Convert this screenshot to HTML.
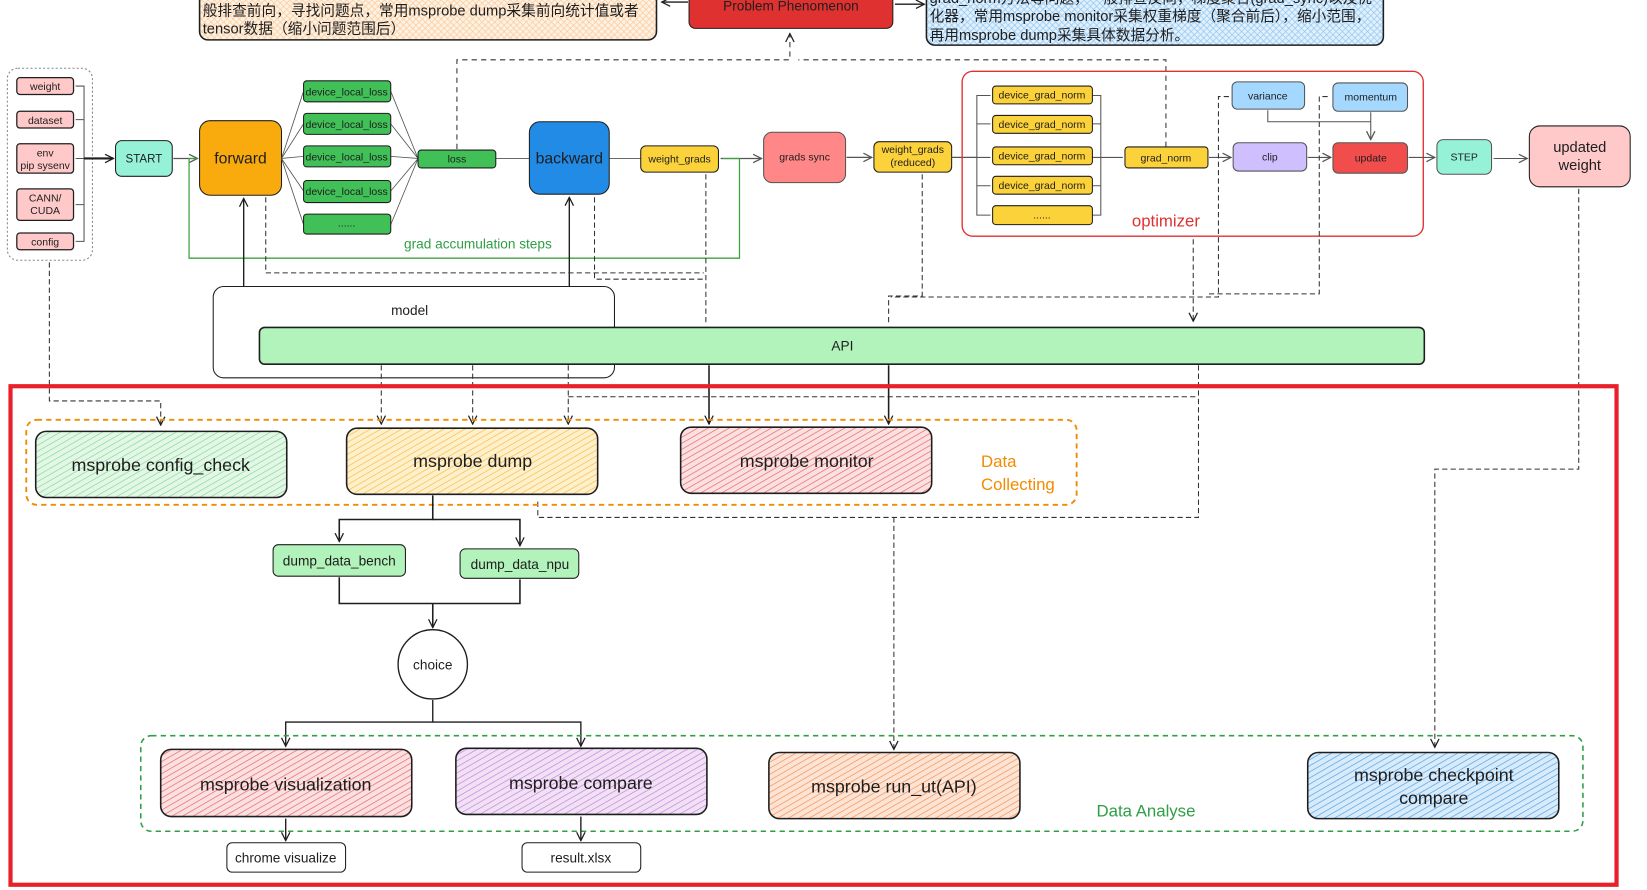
<!DOCTYPE html>
<html><head><meta charset="utf-8"><style>
html,body{margin:0;padding:0;background:#fff;width:1647px;height:890px;overflow:hidden}
svg{display:block}
text{font-family:"Liberation Sans","Noto Sans CJK SC",sans-serif;fill:#1e1e1e}
</style></head><body>
<svg width="1647" height="890" viewBox="0 0 1568 848" preserveAspectRatio="none" xmlns="http://www.w3.org/2000/svg">
<defs>
<marker id="a" markerWidth="10" markerHeight="10" refX="9" refY="5" orient="auto" markerUnits="userSpaceOnUse"><path d="M1,1 L9,5 L1,9" fill="none" stroke="#1e1e1e" stroke-width="1.2"/></marker>
<marker id="ag" markerWidth="10" markerHeight="10" refX="9" refY="5" orient="auto" markerUnits="userSpaceOnUse"><path d="M1,1 L9,5 L1,9" fill="none" stroke="#555" stroke-width="1.2"/></marker>
<pattern id="hg" width="5" height="5" patternUnits="userSpaceOnUse" patternTransform="rotate(60)"><rect width="5" height="5" fill="#e3f7e6"/><line x1="0" y1="0" x2="0" y2="5" stroke="#7fd68f" stroke-width="1.2"/></pattern>
<pattern id="hy" width="5" height="5" patternUnits="userSpaceOnUse" patternTransform="rotate(60)"><rect width="5" height="5" fill="#fff0cc"/><line x1="0" y1="0" x2="0" y2="5" stroke="#f5b83a" stroke-width="1.2"/></pattern>
<pattern id="hr" width="5" height="5" patternUnits="userSpaceOnUse" patternTransform="rotate(60)"><rect width="5" height="5" fill="#fbe0e0"/><line x1="0" y1="0" x2="0" y2="5" stroke="#e55a63" stroke-width="1.2"/></pattern>
<pattern id="hp" width="5" height="5" patternUnits="userSpaceOnUse" patternTransform="rotate(60)"><rect width="5" height="5" fill="#f0e1f5"/><line x1="0" y1="0" x2="0" y2="5" stroke="#c47ad9" stroke-width="1.2"/></pattern>
<pattern id="ho" width="5" height="5" patternUnits="userSpaceOnUse" patternTransform="rotate(60)"><rect width="5" height="5" fill="#fde3d3"/><line x1="0" y1="0" x2="0" y2="5" stroke="#f08a4b" stroke-width="1.2"/></pattern>
<pattern id="hb" width="5" height="5" patternUnits="userSpaceOnUse" patternTransform="rotate(60)"><rect width="5" height="5" fill="#d7ebfb"/><line x1="0" y1="0" x2="0" y2="5" stroke="#4a9be0" stroke-width="1.2"/></pattern>
<pattern id="xo" width="6" height="6" patternUnits="userSpaceOnUse"><rect width="6" height="6" fill="#fff1e0"/><path d="M0,0L6,6M6,0L0,6" stroke="#f7c79a" stroke-width="0.6"/></pattern>
<pattern id="xb" width="6" height="6" patternUnits="userSpaceOnUse"><rect width="6" height="6" fill="#e0f0fd"/><path d="M0,0L6,6M6,0L0,6" stroke="#8cc3ef" stroke-width="0.6"/></pattern>
</defs>

<!-- top boxes -->
<rect x="190" y="-12" width="435" height="50" rx="8" fill="url(#xo)" stroke="#1e1e1e" stroke-width="1.5"/>
<text x="193" y="15" font-size="14">般排查前向，寻找问题点，常用msprobe dump采集前向统计值或者</text>
<text x="193" y="32" font-size="14">tensor数据（缩小问题范围后）</text>
<rect x="656" y="-12" width="194" height="39" rx="6" fill="#e03131" stroke="#1e1e1e" stroke-width="1"/>
<text x="753" y="10" font-size="13" text-anchor="middle">Problem Phenomenon</text>
<line x1="655" y1="2" x2="630" y2="2" stroke="#1e1e1e" stroke-width="1.3" marker-end="url(#a)"/>
<line x1="852" y1="4" x2="880" y2="4" stroke="#1e1e1e" stroke-width="1.3" marker-end="url(#a)"/>
<rect x="882" y="-12" width="435" height="55" rx="8" fill="url(#xb)" stroke="#1e1e1e" stroke-width="1.5"/>
<text x="885" y="3" font-size="14">grad_norm方法等问题，一般排查反向，梯度聚合(grad_sync)以及优</text>
<text x="885" y="20" font-size="14">化器，常用msprobe monitor采集权重梯度（聚合前后），缩小范围，</text>
<text x="885" y="38" font-size="14">再用msprobe dump采集具体数据分析。</text>
<path d="M435,142 V57 H752 V32" fill="none" stroke="#333" stroke-dasharray="5,4" marker-end="url(#a)"/>
<path d="M1110,140 V57 H760" fill="none" stroke="#333" stroke-dasharray="5,4"/>

<!-- left group -->
<rect x="7" y="65" width="81" height="183" rx="10" fill="none" stroke="#888" stroke-dasharray="2,2"/>
<g font-size="10" text-anchor="middle" stroke="#1e1e1e" stroke-width="1.2">
<rect x="16" y="74" width="54" height="16" rx="3" fill="#ffc9c9"/>
<rect x="16" y="106" width="54" height="16" rx="3" fill="#ffc9c9"/>
<rect x="16" y="137" width="54" height="28" rx="3" fill="#ffc9c9"/>
<rect x="16" y="180" width="54" height="30" rx="3" fill="#ffc9c9"/>
<rect x="16" y="222" width="54" height="16" rx="3" fill="#ffc9c9"/>
</g>
<g font-size="10" text-anchor="middle">
<text x="43" y="86">weight</text><text x="43" y="118">dataset</text>
<text x="43" y="149">env</text><text x="43" y="161">pip sysenv</text>
<text x="43" y="192">CANN/</text><text x="43" y="204">CUDA</text>
<text x="43" y="234">config</text>
</g>
<path d="M72,82 H80 V230 H72 M72,114 H80 M72,151 H80 M72,195 H80" fill="none" stroke="#555"/>
<line x1="80" y1="151" x2="108" y2="151" stroke="#1e1e1e" stroke-width="2" marker-end="url(#a)"/>

<rect x="110" y="134" width="54" height="34" rx="6" fill="#96f2d7" stroke="#1e1e1e"/>
<text x="137" y="155" font-size="11" text-anchor="middle">START</text>
<line x1="165" y1="151" x2="188" y2="151" stroke="#555" stroke-width="1.2" marker-end="url(#ag)"/>
<rect x="190" y="115" width="78" height="71" rx="10" fill="#f9ab0e" stroke="#1e1e1e"/>
<text x="229" y="156" font-size="15" text-anchor="middle">forward</text>

<!-- device local loss -->
<g stroke="#555" stroke-width="0.8" fill="none">
<path d="M268,151 L289,87 M268,151 L289,118 M268,151 L289,149 M268,151 L289,182 M268,151 L289,214"/>
<path d="M372,87 L398,151 M372,118 L398,151 M372,149 L398,151 M372,182 L398,151 M372,214 L398,151"/>
<path d="M472,151 L504,151 M580,151 L610,151"/>
</g>
<g stroke="#1e1e1e" fill="#40c057">
<rect x="289" y="77" width="83" height="20" rx="3"/><rect x="289" y="108" width="83" height="20" rx="3"/>
<rect x="289" y="139" width="83" height="20" rx="3"/><rect x="289" y="172" width="83" height="21" rx="3"/>
<rect x="289" y="204" width="83" height="19" rx="3"/>
<rect x="398" y="143" width="74" height="17" rx="3"/>
</g>
<g font-size="10" text-anchor="middle">
<text x="330" y="91">device_local_loss</text><text x="330" y="122">device_local_loss</text>
<text x="330" y="153">device_local_loss</text><text x="330" y="186">device_local_loss</text>
<text x="330" y="216">......</text><text x="435" y="155">loss</text>
</g>
<rect x="504" y="116" width="76" height="69" rx="10" fill="#228be6" stroke="#1e1e1e"/>
<text x="542" y="156" font-size="15" text-anchor="middle">backward</text>
<rect x="610" y="139" width="74" height="25" rx="5" fill="#fcd23a" stroke="#1e1e1e"/>
<text x="647" y="155" font-size="10" text-anchor="middle">weight_grads</text>
<line x1="686" y1="151" x2="725" y2="151" stroke="#555" stroke-width="1.2" marker-end="url(#ag)"/>
<rect x="727" y="126" width="78" height="48" rx="8" fill="#ff8787" stroke="#555"/>
<text x="766" y="153" font-size="10" text-anchor="middle">grads sync</text>
<line x1="806" y1="150" x2="830" y2="150" stroke="#555" stroke-width="1.2" marker-end="url(#ag)"/>
<rect x="832" y="135" width="74" height="29" rx="5" fill="#fcd23a" stroke="#1e1e1e"/>
<text x="869" y="146" font-size="10" text-anchor="middle">weight_grads</text>
<text x="869" y="158" font-size="10" text-anchor="middle">(reduced)</text>
<line x1="906" y1="150" x2="930" y2="150" stroke="#555" stroke-width="1.2"/>

<!-- grad accumulation loop -->
<path d="M688,151 H704 V246 H180 V151 H188" fill="none" stroke="#40a040" stroke-width="1.2"/>
<text x="455" y="237" font-size="13" text-anchor="middle" style="fill:#2f9e44">grad accumulation steps</text>

<!-- optimizer -->
<rect x="916" y="68" width="439" height="157" rx="10" fill="none" stroke="#e03131" stroke-width="1.3"/>
<text x="1110" y="216" font-size="16" text-anchor="middle" style="fill:#e03131">optimizer</text>
<path d="M930,150 V91 H943 M930,118 H943 M930,150 H943 M930,177 H943 M930,150 V205 H943" fill="none" stroke="#555" stroke-width="1"/>
<path d="M1040,91 H1048 V205 H1040 M1040,118 H1048 M1040,177 H1048 M1040,150 H1069" fill="none" stroke="#555" stroke-width="1"/>
<g stroke="#1e1e1e" fill="#fcd23a">
<rect x="945" y="82" width="95" height="17" rx="3"/><rect x="945" y="110" width="95" height="17" rx="3"/>
<rect x="945" y="140" width="95" height="17" rx="3"/><rect x="945" y="168" width="95" height="17" rx="3"/>
<rect x="945" y="196" width="95" height="18" rx="3"/>
<rect x="1071" y="140" width="79" height="20" rx="3"/>
</g>
<g font-size="10" text-anchor="middle">
<text x="992" y="94">device_grad_norm</text><text x="992" y="122">device_grad_norm</text>
<text x="992" y="152">device_grad_norm</text><text x="992" y="180">device_grad_norm</text>
<text x="992" y="208">......</text><text x="1110" y="154">grad_norm</text>
</g>
<line x1="1151" y1="150" x2="1172" y2="150" stroke="#555" marker-end="url(#ag)"/>
<rect x="1173" y="78" width="69" height="26" rx="5" fill="#a5d8ff" stroke="#555"/>
<text x="1207" y="95" font-size="10" text-anchor="middle">variance</text>
<rect x="1269" y="79" width="71" height="27" rx="5" fill="#a5d8ff" stroke="#555"/>
<text x="1305" y="96" font-size="10" text-anchor="middle">momentum</text>
<rect x="1174" y="136" width="70" height="27" rx="5" fill="#d0bfff" stroke="#555"/>
<text x="1209" y="153" font-size="10" text-anchor="middle">clip</text>
<rect x="1269" y="136" width="71" height="29" rx="5" fill="#f24d4d" stroke="#555"/>
<text x="1305" y="154" font-size="10" text-anchor="middle">update</text>
<path d="M1207,105 V116 H1305 M1305,107 V133" fill="none" stroke="#555" marker-end="url(#ag)"/>
<line x1="1245" y1="150" x2="1267" y2="150" stroke="#555" marker-end="url(#ag)"/>
<line x1="1341" y1="150" x2="1366" y2="150" stroke="#555" marker-end="url(#ag)"/>
<rect x="1368" y="133" width="52" height="33" rx="6" fill="#96f2d7" stroke="#555"/>
<text x="1394" y="153" font-size="10" text-anchor="middle">STEP</text>
<line x1="1422" y1="151" x2="1454" y2="151" stroke="#555" marker-end="url(#ag)"/>
<rect x="1456" y="120" width="96" height="58" rx="10" fill="#ffc9c9" stroke="#1e1e1e"/>
<text x="1504" y="145" font-size="14" text-anchor="middle">updated</text>
<text x="1504" y="162" font-size="14" text-anchor="middle">weight</text>

<!-- model & API -->
<rect x="203" y="273" width="382" height="87" rx="10" fill="#fff" stroke="#1e1e1e"/>
<text x="390" y="300" font-size="13" text-anchor="middle">model</text>
<line x1="232" y1="273" x2="232" y2="189" stroke="#1e1e1e" stroke-width="1.3" marker-end="url(#a)"/>
<line x1="542" y1="273" x2="542" y2="188" stroke="#1e1e1e" stroke-width="1.3" marker-end="url(#a)"/>
<rect x="247" y="312" width="1109" height="35" rx="5" fill="#b2f2bb" stroke="#1e1e1e" stroke-width="1.5"/>
<text x="802" y="334" font-size="13" text-anchor="middle">API</text>

<!-- dashed connectors -->
<g fill="none" stroke="#333" stroke-dasharray="5,3" stroke-width="1">
<path d="M253,188 V260 H670"/>
<path d="M566,188 V266 H672"/>
<path d="M672,166 V310"/>
<path d="M878,166 V282 H846 V310"/>
<path d="M1170,92 H1160 V283 H848"/>
<path d="M1264,92 H1256 V280 H1150"/>
<path d="M1136,228 V306" marker-end="url(#a)"/>
<path d="M1503,180 V447 H1366 V712" marker-end="url(#a)"/>
<path d="M47,250 V382 H153 V405" marker-end="url(#a)"/>
<path d="M363,348 V404" marker-end="url(#a)"/>
<path d="M450,348 V404" marker-end="url(#a)"/>
<path d="M541,348 V404" marker-end="url(#a)"/>
<path d="M541,378 H1141"/>
<path d="M1141,348 V493 H512 V475"/>
<path d="M851,493 V714" marker-end="url(#a)"/>
</g>
<line x1="675" y1="348" x2="675" y2="404" stroke="#1e1e1e" stroke-width="1.5" marker-end="url(#a)"/>
<line x1="846" y1="348" x2="846" y2="404" stroke="#1e1e1e" stroke-width="1.5" marker-end="url(#a)"/>

<!-- red frame -->
<rect x="10" y="368" width="1529" height="475" fill="none" stroke="#e8202a" stroke-width="4"/>

<!-- data collecting -->
<rect x="25" y="400" width="1000" height="81" rx="10" fill="none" stroke="#f08c00" stroke-width="1.8" stroke-dasharray="5,4"/>
<text x="934" y="445" font-size="16" style="fill:#f08c00">Data</text>
<text x="934" y="467" font-size="16" style="fill:#f08c00">Collecting</text>
<rect x="34" y="411" width="239" height="63" rx="10" fill="url(#hg)" stroke="#1e1e1e" stroke-width="1.5"/>
<text x="153" y="449" font-size="17" text-anchor="middle">msprobe config_check</text>
<rect x="330" y="408" width="239" height="63" rx="10" fill="url(#hy)" stroke="#1e1e1e" stroke-width="1.5"/>
<text x="450" y="445" font-size="17" text-anchor="middle">msprobe dump</text>
<rect x="648" y="407" width="239" height="63" rx="10" fill="url(#hr)" stroke="#1e1e1e" stroke-width="1.5"/>
<text x="768" y="445" font-size="17" text-anchor="middle">msprobe monitor</text>

<!-- dump tree -->
<path d="M412,472 V495 H323 V516" fill="none" stroke="#1e1e1e" stroke-width="1.5" marker-end="url(#a)"/>
<path d="M412,495 H495 V520" fill="none" stroke="#1e1e1e" stroke-width="1.5" marker-end="url(#a)"/>
<rect x="260" y="519" width="126" height="30" rx="5" fill="#b2f2bb" stroke="#1e1e1e"/>
<text x="323" y="539" font-size="13" text-anchor="middle">dump_data_bench</text>
<rect x="438" y="523" width="113" height="28" rx="5" fill="#b2f2bb" stroke="#1e1e1e"/>
<text x="495" y="542" font-size="13" text-anchor="middle">dump_data_npu</text>
<path d="M323,550 V575 H495 V552 M412,575 V598" fill="none" stroke="#1e1e1e" stroke-width="1.5" marker-end="url(#a)"/>
<circle cx="412" cy="633" r="33" fill="#fff" stroke="#1e1e1e" stroke-width="1.3"/>
<text x="412" y="638" font-size="13" text-anchor="middle">choice</text>
<path d="M412,667 V688 H272 V711" fill="none" stroke="#1e1e1e" stroke-width="1.3" marker-end="url(#a)"/>
<path d="M412,688 H553 V711" fill="none" stroke="#1e1e1e" stroke-width="1.3" marker-end="url(#a)"/>

<!-- data analyse -->
<rect x="134" y="701" width="1373" height="91" rx="10" fill="none" stroke="#2f9e44" stroke-width="1.5" stroke-dasharray="5,4"/>
<text x="1091" y="778" font-size="16" text-anchor="middle" style="fill:#2f9e44">Data Analyse</text>
<rect x="153" y="714" width="239" height="64" rx="10" fill="url(#hr)" stroke="#1e1e1e" stroke-width="1.5"/>
<text x="272" y="753" font-size="17" text-anchor="middle">msprobe visualization</text>
<rect x="434" y="713" width="239" height="63" rx="10" fill="url(#hp)" stroke="#1e1e1e" stroke-width="1.5"/>
<text x="553" y="752" font-size="17" text-anchor="middle">msprobe compare</text>
<rect x="732" y="717" width="239" height="63" rx="10" fill="url(#ho)" stroke="#1e1e1e" stroke-width="1.5"/>
<text x="851" y="755" font-size="17" text-anchor="middle">msprobe run_ut(API)</text>
<rect x="1245" y="717" width="239" height="63" rx="10" fill="url(#hb)" stroke="#1e1e1e" stroke-width="1.5"/>
<text x="1365" y="744" font-size="17" text-anchor="middle">msprobe checkpoint</text>
<text x="1365" y="766" font-size="17" text-anchor="middle">compare</text>
<line x1="272" y1="780" x2="272" y2="801" stroke="#1e1e1e" stroke-width="1.3" marker-end="url(#a)"/>
<line x1="553" y1="778" x2="553" y2="801" stroke="#1e1e1e" stroke-width="1.3" marker-end="url(#a)"/>
<rect x="216" y="803" width="113" height="28" rx="5" fill="#fff" stroke="#1e1e1e"/>
<text x="272" y="822" font-size="13" text-anchor="middle">chrome visualize</text>
<rect x="497" y="803" width="113" height="28" rx="5" fill="#fff" stroke="#1e1e1e"/>
<text x="553" y="822" font-size="13" text-anchor="middle">result.xlsx</text>
</svg>
</body></html>
